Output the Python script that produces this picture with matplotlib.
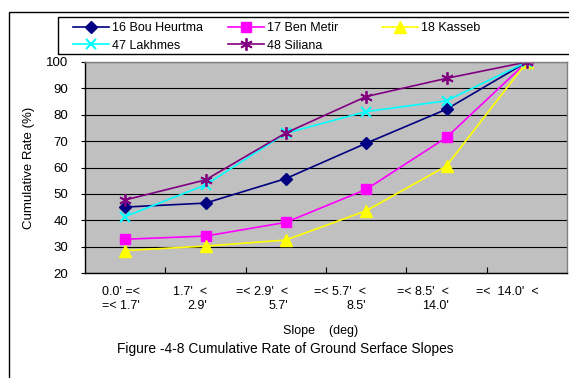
import numpy as np
import matplotlib
matplotlib.use("Agg")
import matplotlib.pyplot as plt
from matplotlib.patches import Rectangle
from matplotlib.transforms import blended_transform_factory

plt.rcParams['font.family'] = ['Liberation Sans', 'DejaVu Sans']
plt.rcParams['font.size'] = 9

W, H = 569, 378

categories = ["0.0' =<\n=< 1.7'", "1.7'  <\n2.9'", "=< 2.9'  <\n5.7'",
              "=< 5.7'  <\n8.5'", "=< 8.5'  <\n14.0'", "=<  14.0'  <"]
bou_heurtma = [45.0, 46.5, 55.8, 69.2, 82.1, 100]
ben_metir = [32.8, 34.0, 39.2, 51.7, 71.4, 100]
kasseb = [28.5, 30.2, 32.5, 43.6, 60.6, 100]
lakhmes = [41.4, 53.4, 73.0, 81.2, 85.3, 100]
siliana = [47.7, 55.3, 73.1, 86.9, 93.8, 100]

x = np.arange(len(categories))

fig = plt.figure(figsize=(W / 100, H / 100), dpi=100)

# outer chart frame (runs off the right/bottom of the picture)
fig.patches.append(Rectangle((9 / W, -0.2), 1.2, (H - 12) / H + 0.2, transform=fig.transFigure,
                             fill=False, edgecolor='black', linewidth=1.0))
# legend frame
fig.patches.append(Rectangle((58 / W, 1 - 54 / H), 1.2, 37 / H, transform=fig.transFigure,
                             fill=False, edgecolor='black', linewidth=1.0))

ax = fig.add_axes([85 / W, (H - 273) / H, 482 / W, 211 / H])
ax.set_facecolor('#C0C0C0')

lw = 1.2
h1, = ax.plot(x, bou_heurtma, color='#000080', marker='D', markersize=6.5, lw=lw, label='16 Bou Heurtma')
h2, = ax.plot(x, ben_metir, color='#FF00FF', marker='s', markersize=7.5, lw=lw, label='17 Ben Metir')
h3, = ax.plot(x, kasseb, color='#FFFF00', marker='^', markersize=8.5, lw=lw, label='18 Kasseb')
h4, = ax.plot(x, lakhmes, color='#00FFFF', marker='x', markersize=7, mew=1.5, lw=lw, label='47 Lakhmes')
h5, = ax.plot(x, siliana, color='#800080', marker=(6, 2, 0), markersize=9, mew=1.3, lw=lw, label='48 Siliana')

ax.set_xlim(-0.5, len(categories) - 0.5)
ax.set_ylim(20, 100)
ax.set_yticks(np.arange(20, 101, 10))
ax.yaxis.grid(True, color='black', linewidth=0.8)
ax.set_axisbelow(True)
ax.tick_params(axis='y', direction='out', length=3, pad=9, labelsize=9.5)
ax.set_xticks([])
ax.set_xticks(np.arange(len(categories) - 1) + 0.5, minor=True)
ax.tick_params(axis='x', which='minor', direction='in', length=4, width=0.8)
for s in ['left', 'bottom']:
    ax.spines[s].set_color('black')
    ax.spines[s].set_linewidth(1.0)
for s in ['top', 'right']:
    ax.spines[s].set_color('#808080')
    ax.spines[s].set_linewidth(1.0)

ax.set_ylabel('Cumulative Rate (%)', fontsize=9.5)
ax.yaxis.set_label_coords(-0.104, 0.5)

# category labels, wrapped like the original
trans = blended_transform_factory(ax.transData, ax.transAxes)
label_x = [0.18, 1.02, 2.03, 3.0, 4.03, 5.15]
for lx, lab in zip(label_x, categories):
    ax.text(lx, -0.062, lab, transform=trans, ha='right', va='top',
            multialignment='right', linespacing=1.2, fontsize=9)

ax.text(2.43, -0.275, 'Slope    (deg)', transform=trans, ha='center', va='center', fontsize=9)
fig.text(285 / W, 1 - 349 / H, 'Figure -4-8 Cumulative Rate of Ground Serface Slopes',
         ha='center', va='center', fontsize=9.9)

# legend in three columns
cols = [([h1, h4], 73), ([h2, h5], 228), ([h3], 382)]
for hs, px in cols:
    fig.legend(handles=hs, loc='upper left', bbox_to_anchor=(px / W, 1 - 22 / H),
               frameon=False, borderpad=0, borderaxespad=0, handlelength=2.9,
               handletextpad=0.2, labelspacing=0.45, fontsize=9)

fig.savefig('out.png', dpi=100)
